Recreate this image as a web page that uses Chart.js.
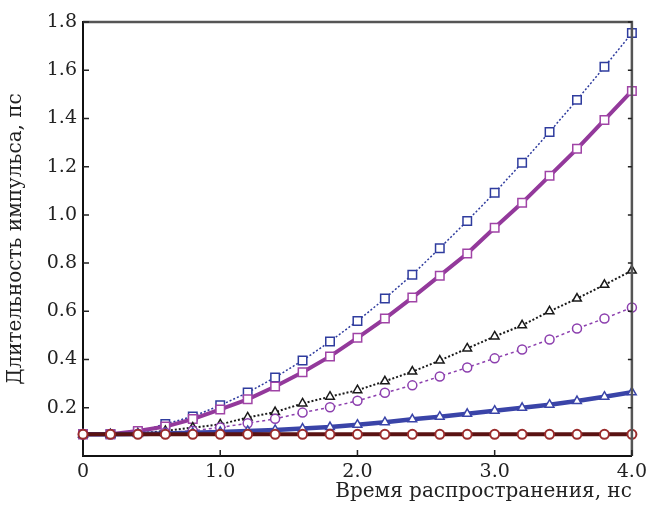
<!DOCTYPE html>
<html>
<head>
<meta charset="utf-8">
<script src="https://cdn.jsdelivr.net/npm/chart.js@4.4.1/dist/chart.umd.min.js"></script>
<style>
  html, body { margin: 0; padding: 0; background: #fff; }
  #wrap { width: 652px; height: 508px; }
</style>
</head>
<body>
<div id="wrap"><canvas id="pulseChart"></canvas></div>
<script>
// время распространения, нс
const times = [0, 0.2, 0.4, 0.6, 0.8, 1.0, 1.2, 1.4, 1.6, 1.8, 2.0, 2.2, 2.4, 2.6, 2.8, 3.0, 3.2, 3.4, 3.6, 3.8, 4.0];

// длительность импульса, пс
const blueSquares   = [0.09, 0.09, 0.10, 0.133, 0.164, 0.21, 0.263, 0.326, 0.396, 0.475, 0.56, 0.653, 0.752, 0.862, 0.975, 1.092, 1.216, 1.344, 1.477, 1.614, 1.754];
const purpleSquares = [0.09, 0.09, 0.104, 0.122, 0.153, 0.193, 0.235, 0.288, 0.347, 0.413, 0.49, 0.57, 0.657, 0.748, 0.84, 0.947, 1.05, 1.162, 1.274, 1.394, 1.514];
const blackTriangles = [0.09, 0.09, 0.093, 0.104, 0.118, 0.131, 0.16, 0.182, 0.218, 0.246, 0.273, 0.31, 0.35, 0.396, 0.446, 0.496, 0.542, 0.60, 0.653, 0.71, 0.769];
const purpleCircles = [0.09, 0.09, 0.092, 0.097, 0.105, 0.118, 0.136, 0.154, 0.18, 0.202, 0.229, 0.262, 0.293, 0.33, 0.367, 0.405, 0.442, 0.483, 0.529, 0.57, 0.616];
const blueTriangles = [0.09, 0.09, 0.091, 0.093, 0.096, 0.10, 0.104, 0.108, 0.114, 0.12, 0.13, 0.14, 0.152, 0.163, 0.175, 0.188, 0.2, 0.213, 0.228, 0.246, 0.264];
const brownCircles  = [0.09, 0.09, 0.09, 0.09, 0.09, 0.09, 0.09, 0.09, 0.09, 0.09, 0.09, 0.09, 0.09, 0.09, 0.09, 0.09, 0.09, 0.09, 0.09, 0.09, 0.09];

const xTicks = [0, 1, 2, 3, 4];
const yTicks = [0.2, 0.4, 0.6, 0.8, 1.0, 1.2, 1.4, 1.6, 1.8];

const toPoints = arr => arr.map((v, i) => ({ x: times[i], y: v }));

const FONT = "'DejaVu Serif', 'Liberation Serif', serif";

// рамка сверху/справа и внутренние риски
const framePlugin = {
  id: 'frame',
  afterDatasetsDraw(chart) {
    const { ctx, chartArea: a, scales } = chart;
    ctx.save();
    ctx.strokeStyle = '#555';
    ctx.lineWidth = 2.5;
    ctx.beginPath();
    ctx.moveTo(a.left, a.top);
    ctx.lineTo(a.right, a.top);
    ctx.lineTo(a.right, a.bottom);
    ctx.stroke();

    ctx.strokeStyle = '#222';
    ctx.lineWidth = 1.5;
    ctx.beginPath();
    yTicks.forEach(t => {
      const y = scales.y.getPixelForValue(t);
      ctx.moveTo(a.left, y); ctx.lineTo(a.left + 6, y);
      ctx.moveTo(a.right, y); ctx.lineTo(a.right - 4, y);
    });
    xTicks.forEach(t => {
      const x = scales.x.getPixelForValue(t);
      ctx.moveTo(x, a.bottom); ctx.lineTo(x, a.bottom - 6);
    });
    ctx.stroke();
    ctx.restore();
  }
};

new Chart(document.getElementById('pulseChart'), {
  type: 'line',
  data: {
    datasets: [
      {
        data: toPoints(brownCircles),
        borderColor: '#5a1212',
        borderWidth: 4,
        pointStyle: 'circle',
        pointRadius: 4.5,
        pointBorderWidth: 2,
        pointBorderColor: '#9a2c2c',
        pointBackgroundColor: '#fff',
        clip: false
      },
      {
        data: toPoints(blueTriangles),
        borderColor: '#3a44a8',
        borderWidth: 4.5,
        pointStyle: 'triangle',
        pointRadius: 5,
        pointBorderWidth: 1.5,
        pointBorderColor: '#3a44a8',
        pointBackgroundColor: '#fff',
        clip: false
      },
      {
        data: toPoints(purpleCircles),
        borderColor: '#8c3fae',
        borderWidth: 1.5,
        borderDash: [3, 3],
        pointStyle: 'circle',
        pointRadius: 4.5,
        pointBorderWidth: 1.5,
        pointBorderColor: '#8c3fae',
        pointBackgroundColor: '#fff',
        clip: false
      },
      {
        data: toPoints(blackTriangles),
        borderColor: '#1a1a1a',
        borderWidth: 2,
        borderDash: [2, 2],
        pointStyle: 'triangle',
        pointRadius: 5,
        pointBorderWidth: 1.5,
        pointBorderColor: '#1a1a1a',
        pointBackgroundColor: '#fff',
        clip: false
      },
      {
        data: toPoints(purpleSquares),
        borderColor: '#93399b',
        borderWidth: 4,
        pointStyle: 'rect',
        pointRadius: 6,
        pointBorderWidth: 1.5,
        pointBorderColor: '#a044a6',
        pointBackgroundColor: '#fff',
        clip: false
      },
      {
        data: toPoints(blueSquares),
        borderColor: '#2f3c9e',
        borderWidth: 1.5,
        borderDash: [2, 2],
        pointStyle: 'rect',
        pointRadius: 6,
        pointBorderWidth: 1.5,
        pointBorderColor: '#2f3c9e',
        pointBackgroundColor: '#fff',
        clip: false
      }
    ]
  },
  options: {
    responsive: true,
    maintainAspectRatio: false,
    animation: false,
    layout: { padding: { top: 22, right: 16, left: 0, bottom: 0 } },
    plugins: { legend: { display: false }, tooltip: { enabled: false } },
    scales: {
      x: {
        type: 'linear',
        min: 0,
        max: 4,
        afterFit: s => { s.height = 52; },
        grid: { display: false, drawTicks: false },
        border: { display: true, color: '#111', width: 2 },
        ticks: {
          stepSize: 1,
          padding: 5,
          color: '#222',
          font: { family: FONT, size: 19 },
          callback: v => (v === 0 ? '0' : v.toFixed(1))
        },
        title: {
          display: true,
          text: 'Время распространения, нс',
          align: 'end',
          color: '#222',
          font: { family: FONT, size: 20 },
          padding: { top: 0, bottom: 4 }
        }
      },
      y: {
        min: 0,
        max: 1.8,
        afterFit: s => { s.width = 83; },
        grid: { display: false, drawTicks: false },
        border: { display: true, color: '#111', width: 2 },
        ticks: {
          stepSize: 0.2,
          padding: 6,
          color: '#222',
          font: { family: FONT, size: 19 },
          callback: v => (Math.abs(v) < 1e-9 ? '' : (Math.round(v * 10) / 10).toFixed(1))
        },
        title: {
          display: true,
          text: 'Длительность импульса, пс',
          color: '#222',
          font: { family: FONT, size: 20 },
          padding: { top: 4, bottom: 0 }
        }
      }
    }
  },
  plugins: [framePlugin]
});
</script>
</body>
</html>
